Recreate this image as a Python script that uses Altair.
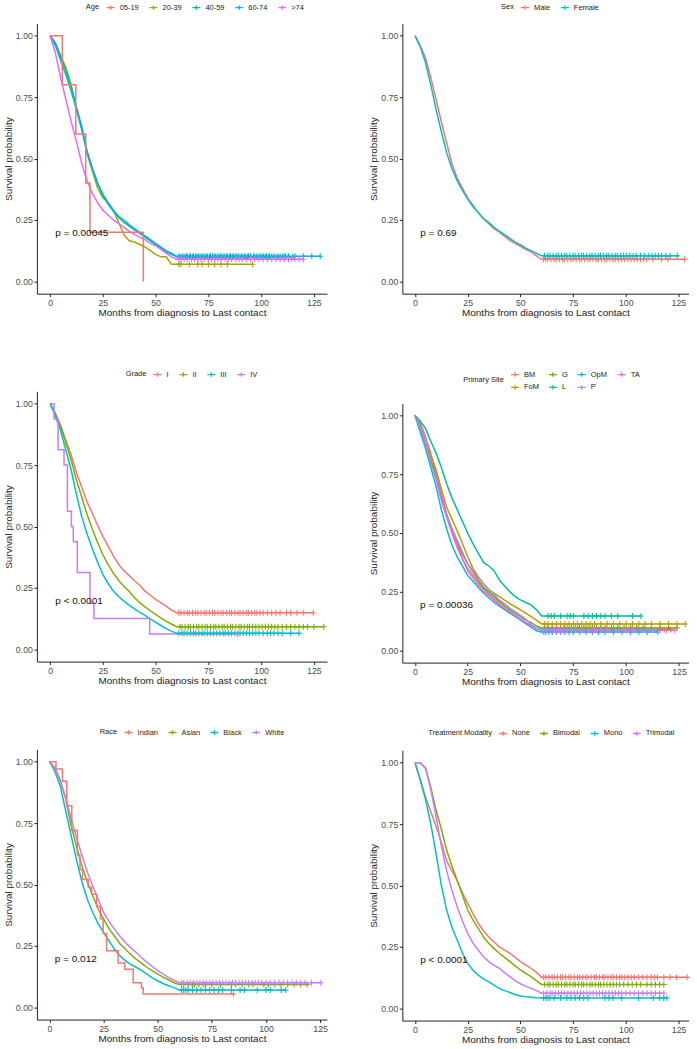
import altair as alt
import pandas as pd

FONT = "Liberation Sans"

# common reading grid (months) for the large curves
GRID = [0, 2.5, 5, 7.5, 10, 12.5, 15, 17.5, 20, 22.5, 25, 27.5, 30, 32.5, 35,
        37.5, 40, 42.5, 45, 47.5, 50, 52.5, 55, 57.5, 60]

# ---------------- Age ----------------
AGE_LABELS = ["05-19", "20-39", "40-59", "60-74", ">74"]
AGE_COLORS = ["#F8766D", "#A3A500", "#00BF7D", "#00B0F6", "#E76BF3"]
AGE_0519_T = [0, 5.8, 12.2, 16.9, 18.9, 44.2]
AGE_0519_S = [1, 0.8, 0.6, 0.4, 0.2, 0.0]
AGE_2039_S = [1, 0.97, 0.92, 0.87, 0.80, 0.70, 0.62, 0.52, 0.45, 0.38, 0.34, 0.32, 0.29,
              0.24, 0.19, 0.165, 0.16, 0.15, 0.14, 0.125, 0.11, 0.10, 0.10, 0.07, 0.07]
AGE_4059_S = [1, 0.97, 0.91, 0.86, 0.79, 0.71, 0.63, 0.53, 0.46, 0.40, 0.35, 0.315, 0.285,
              0.26, 0.24, 0.225, 0.21, 0.195, 0.18, 0.165, 0.15, 0.135, 0.12, 0.11, 0.10]
AGE_6074_S = [1, 0.96, 0.90, 0.84, 0.775, 0.70, 0.62, 0.53, 0.46, 0.40, 0.355, 0.32, 0.29,
              0.265, 0.25, 0.23, 0.215, 0.20, 0.185, 0.17, 0.155, 0.14, 0.125, 0.115, 0.102]
AGE_74_S = [1, 0.93, 0.83, 0.74, 0.65, 0.57, 0.48, 0.41, 0.36, 0.32, 0.29, 0.27, 0.25,
            0.235, 0.22, 0.205, 0.19, 0.18, 0.17, 0.155, 0.145, 0.13, 0.115, 0.10, 0.09]
AGE_END = [44.2, 96, 115, 128, 120]
AGE_0519_C = []
AGE_2039_C = [61, 62, 66, 70, 72, 75, 78, 81, 84, 96]
AGE_4059_C = [61.5, 63, 64.5, 66, 67.5, 69, 70, 71.5, 73, 74, 75.5, 77, 78, 79.5, 81, 82,
              83.5, 85, 86.5, 88, 89, 90.5, 92, 93.5, 95, 97, 99, 100.5, 102, 103.5, 105,
              107, 109, 111, 113, 115]
AGE_6074_C = [61, 62.5, 64, 65, 66.5, 68, 69, 70.5, 72, 73, 74.5, 76, 77, 78.5, 80, 81,
              82.5, 84, 85.5, 87, 88, 89.5, 91, 92.5, 94, 95, 96.5, 98, 99.5, 101, 102.5,
              104, 106, 108, 110, 111.5, 113, 116, 120, 124, 128]
AGE_74_C = [61, 62, 63.5, 65, 67, 68.5, 70, 71.5, 73, 75, 76.5, 78, 79.5, 81, 83, 84.5,
            86, 88, 89.5, 91, 93, 95, 97, 99, 101, 103, 105, 107, 109, 111, 113, 114.5,
            116, 118, 120]

# ---------------- Sex ----------------
SEX_LABELS = ["Male", "Female"]
SEX_COLORS = ["#F8766D", "#00BFC4"]
MALE_S = [1, 0.96, 0.91, 0.83, 0.74, 0.65, 0.565, 0.48, 0.42, 0.38, 0.34, 0.31, 0.28,
          0.255, 0.235, 0.215, 0.20, 0.183, 0.167, 0.155, 0.143, 0.13, 0.12, 0.105, 0.09]
FEMALE_S = [1, 0.955, 0.89, 0.80, 0.70, 0.61, 0.525, 0.46, 0.41, 0.37, 0.335, 0.305, 0.28,
            0.255, 0.24, 0.22, 0.205, 0.19, 0.175, 0.16, 0.15, 0.135, 0.125, 0.115, 0.104]
SEX_END = [128, 124.5]
MALE_C = [61, 62, 63, 64.5, 66, 67, 68.5, 70, 71, 72.5, 74, 75, 76.5, 78, 79, 80.5, 82,
          83, 84.5, 86, 87, 88.5, 90, 91, 92.5, 94, 95, 96.5, 98, 99.5, 101, 102.5, 104,
          105.5, 107, 108.5, 110, 113, 117, 120, 128]
FEMALE_C = [61.5, 63, 64, 65.5, 67, 68, 69.5, 71, 72, 73.5, 75, 76, 77.5, 79, 80, 81.5,
            83, 84, 85.5, 87, 88, 89.5, 91, 92, 93.5, 95, 96, 97.5, 99, 100.5, 102, 103.5,
            105, 107, 109, 111, 112.5, 114, 115.5, 117, 119, 121, 124.5]

# ---------------- Grade ----------------
GRADE_LABELS = ["I", "II", "III", "IV"]
GRADE_COLORS = ["#F8766D", "#7CAE00", "#00BFC4", "#C77CFF"]
G1_S = [1, 0.96, 0.91, 0.85, 0.79, 0.72, 0.66, 0.60, 0.555, 0.505, 0.46, 0.42, 0.38,
        0.345, 0.32, 0.30, 0.28, 0.26, 0.237, 0.22, 0.203, 0.19, 0.176, 0.16, 0.149]
G2_S = [1, 0.96, 0.91, 0.84, 0.77, 0.69, 0.62, 0.55, 0.49, 0.435, 0.386, 0.345, 0.31,
        0.28, 0.257, 0.235, 0.21, 0.19, 0.173, 0.157, 0.142, 0.128, 0.115, 0.103, 0.092]
G3_S = [1, 0.95, 0.89, 0.81, 0.73, 0.63, 0.54, 0.47, 0.41, 0.355, 0.305, 0.268, 0.237,
        0.215, 0.196, 0.18, 0.165, 0.15, 0.138, 0.124, 0.111, 0.097, 0.084, 0.074, 0.065]
G4_T = [0, 1.9, 3.8, 6.6, 8.2, 10.1, 11.0, 12.9, 18.9, 20.8, 47.2]
G4_S = [1, 0.9375, 0.8125, 0.75, 0.5625, 0.5, 0.4375, 0.3125, 0.1875, 0.125, 0.0625]
GRADE_END = [124.7, 129.7, 117.9, 88.7]
G1_C = [61, 62, 63.5, 65, 66, 67.5, 69, 70, 71.5, 73, 74, 75.5, 77, 78, 79.5, 81, 82,
        83.5, 85, 86, 87.5, 89, 90, 91.5, 93, 94, 95.5, 97, 98, 99.5, 101, 103, 105, 107,
        109, 112, 114, 117, 120, 124.7]
G2_C = [61.5, 62.5, 64, 65.5, 66.5, 68, 69.5, 70.5, 72, 73.5, 74.5, 76, 77.5, 78.5, 80,
        81.5, 82.5, 84, 85.5, 86.5, 88, 89.5, 90.5, 92, 93.5, 94.5, 96, 97.5, 99, 100.5,
        102, 103.5, 105, 106.5, 108, 110, 112, 114, 116, 118, 120, 122, 125, 129.7]
G3_C = [61, 62.5, 63.5, 65, 66.5, 68, 69, 70.5, 72, 73, 74.5, 76, 77.5, 79, 80.5, 82, 83,
        84.5, 86, 87.5, 89, 90, 91.5, 93, 94.5, 96, 97.5, 99, 101, 103, 104.5, 106, 108,
        110, 114, 117.9]
G4_C = [88.7]

# ---------------- Primary Site (legend order: 2 rows of 4) ----------------
SITE_LABELS = ["BM", "G", "OpM", "TA", "FoM", "L", "P"]
SITE_COLORS = ["#F8766D", "#53B400", "#00B6EB", "#FB61D7", "#C49A00", "#00C094", "#A58AFF"]
BM_S = [1, 0.95, 0.88, 0.81, 0.74, 0.65, 0.57, 0.50, 0.44, 0.39, 0.35, 0.32, 0.29,
        0.265, 0.24, 0.22, 0.20, 0.18, 0.165, 0.15, 0.135, 0.12, 0.105, 0.095, 0.09]
G_S = [1, 0.95, 0.88, 0.81, 0.75, 0.66, 0.58, 0.52, 0.46, 0.41, 0.37, 0.335, 0.30,
       0.27, 0.25, 0.23, 0.21, 0.19, 0.175, 0.16, 0.145, 0.13, 0.12, 0.105, 0.097]
OPM_S = [1, 0.93, 0.86, 0.78, 0.70, 0.60, 0.52, 0.45, 0.40, 0.36, 0.32, 0.295, 0.27,
         0.245, 0.225, 0.205, 0.19, 0.175, 0.16, 0.145, 0.13, 0.115, 0.10, 0.085, 0.08]
TA_S = [1, 0.97, 0.91, 0.84, 0.76, 0.67, 0.58, 0.51, 0.45, 0.39, 0.34, 0.31, 0.28,
        0.255, 0.235, 0.215, 0.195, 0.18, 0.165, 0.15, 0.135, 0.12, 0.105, 0.095, 0.087]
FOM_S = [1, 0.96, 0.89, 0.83, 0.77, 0.69, 0.61, 0.56, 0.51, 0.455, 0.40, 0.35, 0.315,
         0.285, 0.26, 0.245, 0.23, 0.215, 0.20, 0.187, 0.174, 0.16, 0.145, 0.13, 0.114]
L_S = [1, 0.975, 0.945, 0.89, 0.84, 0.78, 0.71, 0.65, 0.60, 0.55, 0.50, 0.455, 0.415,
       0.375, 0.36, 0.34, 0.30, 0.275, 0.25, 0.23, 0.216, 0.205, 0.195, 0.175, 0.148]
P_S = [1, 0.95, 0.88, 0.80, 0.73, 0.64, 0.57, 0.52, 0.47, 0.42, 0.37, 0.34, 0.31,
       0.285, 0.26, 0.24, 0.215, 0.20, 0.18, 0.165, 0.15, 0.135, 0.11, 0.095, 0.088]
SITE_END = [121, 124, 115, 123, 128, 107, 113]
BM_C = [61, 62.5, 64, 66, 67.5, 69, 71, 72.5, 74, 76, 77.5, 79, 81, 82.5, 84, 86, 87.5,
        89, 91, 93, 95, 97, 99, 101, 104, 107, 110, 114, 118, 121]
G_C = [61.5, 63, 65, 67, 69, 70.5, 72, 74, 76, 78, 80, 82, 84, 86, 88, 90, 93, 96, 99,
       102, 105, 108, 112, 116, 120, 124]
OPM_C = [61, 62, 63.5, 65, 67, 69, 71, 73, 75, 78, 81, 84, 87, 90, 94, 98, 102, 106,
         110, 115]
TA_C = [61, 62, 64, 65.5, 67, 69, 70.5, 72, 74, 76, 78, 80, 82, 84, 86, 88, 90, 92, 95,
        98, 101, 104, 107, 110, 113, 116, 119, 123]
FOM_C = [61.5, 63, 65, 67, 69, 71, 73, 75, 77, 79, 81, 83, 85, 88, 91, 94, 97, 100, 103,
         106, 109, 112, 116, 120, 124, 128]
L_C = [63, 64.5, 66, 69, 72, 73.5, 75, 80, 82, 84, 86, 88, 90, 93, 96, 103, 107]
P_C = [61, 62.5, 64, 66, 68, 70, 72, 74, 76, 79, 82, 85, 88, 91, 95, 99, 103, 107, 110,
       113]

# ---------------- Race ----------------
RACE_LABELS = ["Indian", "Asian", "Black", "White"]
RACE_COLORS = ["#F8766D", "#7CAE00", "#00BFC4", "#C77CFF"]
INDIAN_T = [0, 3, 6, 8, 10.3, 12.9, 14.1, 15.3, 17.9, 19.5, 21.8, 23.5, 24.8, 26.4, 31.7,
            34.8, 38.7, 42.5, 43.3]
INDIAN_S = [1, 0.97, 0.92, 0.82, 0.72, 0.62, 0.56, 0.52, 0.49, 0.46, 0.41, 0.36, 0.30,
            0.23, 0.18, 0.155, 0.10, 0.08, 0.054]
ASIAN_S = [1, 0.975, 0.925, 0.85, 0.74, 0.655, 0.576, 0.51, 0.454, 0.40, 0.36, 0.32, 0.29,
           0.26, 0.237, 0.215, 0.196, 0.18, 0.163, 0.148, 0.135, 0.123, 0.112, 0.10, 0.093]
BLACK_S = [1, 0.96, 0.90, 0.80, 0.70, 0.60, 0.51, 0.44, 0.386, 0.34, 0.305, 0.27, 0.237,
           0.21, 0.19, 0.175, 0.163, 0.15, 0.135, 0.12, 0.108, 0.097, 0.088, 0.08, 0.07]
WHITE_S = [1, 0.97, 0.92, 0.85, 0.77, 0.69, 0.62, 0.55, 0.495, 0.44, 0.386, 0.35, 0.318,
           0.29, 0.264, 0.243, 0.224, 0.203, 0.183, 0.166, 0.149, 0.135, 0.122, 0.11, 0.10]
RACE_END = [85, 119, 109, 125.3]
INDIAN_C = [85]
ASIAN_C = [61, 62, 64, 66, 67, 69, 71, 72, 75, 79, 84, 86, 89, 92, 94, 99, 101, 104, 107,
           110, 113, 116, 119]
BLACK_C = [61, 62, 63, 64, 66, 68, 70, 72, 74, 76, 78, 80, 84, 88, 90, 96, 100, 102, 107,
           109]
WHITE_C = [61, 62, 63.5, 65, 66.5, 68, 69.5, 71, 72.5, 74, 75.5, 77, 78.5, 80, 81.5, 83,
           84.5, 86, 87.5, 89, 90.5, 92, 93.5, 95, 96.5, 98, 100, 102, 104, 106, 108, 110,
           112, 114, 116, 118, 121, 125.3]

# ---------------- Treatment Modality ----------------
TREAT_LABELS = ["None", "Bimodal", "Mono", "Trimodal"]
TREAT_COLORS = ["#F8766D", "#7CAE00", "#00BFC4", "#C77CFF"]
NONE_S = [1, 0.93, 0.86, 0.80, 0.74, 0.675, 0.60, 0.56, 0.52, 0.47, 0.427, 0.385, 0.346,
          0.315, 0.29, 0.27, 0.25, 0.237, 0.224, 0.207, 0.19, 0.177, 0.163, 0.147, 0.126]
BI_S = [1, 1.0, 0.976, 0.90, 0.806, 0.73, 0.644, 0.58, 0.52, 0.46, 0.40, 0.36, 0.325,
        0.29, 0.264, 0.243, 0.224, 0.207, 0.19, 0.173, 0.156, 0.142, 0.129, 0.113, 0.097]
MONO_S = [1, 0.93, 0.85, 0.75, 0.63, 0.50, 0.40, 0.33, 0.278, 0.225, 0.183, 0.155, 0.135,
          0.12, 0.108, 0.094, 0.081, 0.072, 0.064, 0.056, 0.05, 0.047, 0.045, 0.043, 0.042]
TRI_S = [1, 1.0, 0.98, 0.89, 0.78, 0.66, 0.56, 0.48, 0.413, 0.355, 0.305, 0.265, 0.237,
         0.21, 0.19, 0.175, 0.163, 0.145, 0.129, 0.113, 0.10, 0.09, 0.081, 0.073, 0.061]
TREAT_END = [129, 118, 119.5, 118]
NONE_C = [61, 62, 63.5, 65, 66, 67.5, 69, 70, 71.5, 73, 74, 75.5, 77, 78, 79.5, 81, 82,
          83.5, 85, 86, 87.5, 89, 90, 91.5, 93, 94, 95.5, 97, 98, 99.5, 101, 102.5, 104,
          106, 108, 110, 112, 113.5, 115, 118, 121, 124, 129]
BI_C = [61.5, 63, 64, 65.5, 67, 68, 69.5, 71, 72, 73.5, 75, 76, 77.5, 79, 80, 81.5, 83,
        84, 85.5, 87, 88, 89.5, 91, 92.5, 94, 95.5, 97, 99, 101, 103, 105, 107, 110, 112,
        114, 116, 118]
MONO_C = [61, 62, 63, 64, 66, 69, 72, 74, 76, 78, 80, 82, 90, 92, 94, 98, 106, 113, 116,
          118, 119.5]
TRI_C = [61, 62.5, 64, 65, 66.5, 68, 69.5, 71, 72.5, 74, 75.5, 77, 78.5, 80, 81.5, 83,
         84.5, 86, 87.5, 89, 90.5, 92, 93.5, 95, 96.5, 98, 100, 102, 104, 106, 108, 110,
         112, 114, 116, 118]

P_VALUES = ["p = 0.00045", "p = 0.69", "p < 0.0001", "p = 0.00036", "p = 0.012", "p < 0.0001"]


def surv_at(times, surv, c):
    v = surv[0]
    for t, s in zip(times, surv):
        if t <= c:
            v = s
    return v


def panel(title, labels, colors, curves, censors, pval, xdom, w, h, lx, ly,
          cols=None, lpad=0):
    line_rows, cens_rows = [], []
    for lab, (T, S, end), C in zip(labels, curves, censors):
        kind = "grid" if T is GRID else "step"
        pts = list(zip(T, S))
        if end > T[-1]:
            pts.append((end, S[-1]))
        for t, s in pts:
            line_rows.append({"g": lab, "t": t, "s": s, "k": kind})
        for c in C:
            cens_rows.append({"g": lab, "t": c, "s": surv_at(T, S, c)})
    ldf = pd.DataFrame(line_rows)
    cdf = pd.DataFrame(cens_rows)

    legend_kw = dict(
        title=title, orient="none", legendX=lx, legendY=ly, direction="horizontal",
        titleOrient="left", titleAnchor="middle", titleBaseline="middle",
        titleFont=FONT, titleFontSize=7.5, titleFontWeight="normal", titleColor="#222",
        labelFont=FONT, labelFontSize=7.5, labelColor="#222",
        symbolType="M-1,0H1M0,-0.55V0.55", symbolSize=64, symbolStrokeWidth=1.3,
        labelOffset=4, columnPadding=7, rowPadding=3, titlePadding=6, padding=lpad,
    )
    if cols:
        legend_kw["columns"] = cols
    legend = alt.Legend(**legend_kw)

    xs = alt.Scale(domain=xdom, nice=False, zero=False)
    ys = alt.Scale(domain=[-0.05, 1.05], nice=False, zero=False)
    xaxis = alt.Axis(values=[0, 25, 50, 75, 100, 125], title="Months from diagnosis to Last contact",
                     titlePadding=1)
    yaxis = alt.Axis(values=[0, 0.25, 0.5, 0.75, 1.0], format=".2f",
                     title="Survival probability", titlePadding=2)
    cscale = alt.Scale(domain=labels, range=colors)

    base = alt.Chart(ldf)
    smooth = base.transform_filter(alt.datum.k == "grid").mark_line(
        interpolate="linear", strokeWidth=1.5).encode(
        x=alt.X("t:Q", scale=xs, axis=xaxis),
        y=alt.Y("s:Q", scale=ys, axis=yaxis),
        color=alt.Color("g:N", scale=cscale, legend=legend),
    )
    steps = base.transform_filter(alt.datum.k == "step").mark_line(
        interpolate="step-after", strokeWidth=1.5).encode(
        x=alt.X("t:Q", scale=xs),
        y=alt.Y("s:Q", scale=ys),
        color=alt.Color("g:N", scale=cscale, legend=legend),
    )
    marks = alt.Chart(cdf).mark_point(shape="M-1,0H1M0,-1V1", filled=False, size=36,
                                      strokeWidth=1.1, opacity=1).encode(
        x=alt.X("t:Q", scale=xs),
        y=alt.Y("s:Q", scale=ys),
        color=alt.Color("g:N", scale=cscale, legend=None),
    )
    txt = alt.Chart(pd.DataFrame({"label": [pval]})).mark_text(
        align="left", baseline="middle", font=FONT, fontSize=10, color="#111"
    ).encode(x=alt.datum(2.5), y=alt.datum(0.195), text="label:N")
    return alt.layer(smooth, steps, marks, txt).properties(width=w, height=h)


A = panel("Age", AGE_LABELS, AGE_COLORS,
          [(AGE_0519_T, AGE_0519_S, AGE_END[0]), (GRID, AGE_2039_S, AGE_END[1]),
           (GRID, AGE_4059_S, AGE_END[2]), (GRID, AGE_6074_S, AGE_END[3]),
           (GRID, AGE_74_S, AGE_END[4])],
          [AGE_0519_C, AGE_2039_C, AGE_4059_C, AGE_6074_C, AGE_74_C],
          P_VALUES[0], [-6.25, 131.25], 291, 271, 49, -21)
B = panel("Sex", SEX_LABELS, SEX_COLORS,
          [(GRID, MALE_S, SEX_END[0]), (GRID, FEMALE_S, SEX_END[1])],
          [MALE_C, FEMALE_C], P_VALUES[1], [-6.0, 129.8], 287, 271, 99, -21)
C = panel("Grade", GRADE_LABELS, GRADE_COLORS,
          [(GRID, G1_S, GRADE_END[0]), (GRID, G2_S, GRADE_END[1]),
           (GRID, G3_S, GRADE_END[2]), (G4_T, G4_S, GRADE_END[3])],
          [G1_C, G2_C, G3_C, G4_C], P_VALUES[2], [-6.25, 131.25], 291, 271, 89 - 10, -22 - 10,
          lpad=10)
D = panel("Primary Site", SITE_LABELS, SITE_COLORS,
          [(GRID, BM_S, SITE_END[0]), (GRID, G_S, SITE_END[1]), (GRID, OPM_S, SITE_END[2]),
           (GRID, TA_S, SITE_END[3]), (GRID, FOM_S, SITE_END[4]), (GRID, L_S, SITE_END[5]),
           (GRID, P_S, SITE_END[6])],
          [BM_C, G_C, OPM_C, TA_C, FOM_C, L_C, P_C], P_VALUES[3], [-5.9, 129.5], 287, 260,
          61 - 10, -34 - 10, cols=4, lpad=10)
E = panel("Race", RACE_LABELS, RACE_COLORS,
          [(INDIAN_T, INDIAN_S, RACE_END[0]), (GRID, ASIAN_S, RACE_END[1]),
           (GRID, BLACK_S, RACE_END[2]), (GRID, WHITE_S, RACE_END[3])],
          [INDIAN_C, ASIAN_C, BLACK_C, WHITE_C], P_VALUES[4], [-5.8, 128.2], 291, 271, 63, -22)
F = panel("Treatment Modality", TREAT_LABELS, TREAT_COLORS,
          [(GRID, NONE_S, TREAT_END[0]), (GRID, BI_S, TREAT_END[1]),
           (GRID, MONO_S, TREAT_END[2]), (GRID, TRI_S, TREAT_END[3])],
          [NONE_C, BI_C, MONO_C, TRI_C], P_VALUES[5], [-6.0, 129.7], 287, 271, 26, -22)


def indep(ch):
    return ch.resolve_scale(color="independent", x="independent", y="independent") \
             .resolve_legend(color="independent")


left = indep(alt.vconcat(A, C, E, spacing=41))
right = indep(alt.vconcat(B, D, F, spacing=41))
chart = indep(alt.hconcat(left, right, spacing=39.5)).properties(
    padding={"left": 3, "top": 1, "right": 4, "bottom": 4}
).configure_view(stroke=None).configure_axis(
    grid=False, domainColor="#222", tickColor="#222", labelColor="#4D4D4D",
    labelFont=FONT, titleFont=FONT, labelFontSize=8.8, titleFontSize=10,
    titleFontWeight="normal", titleColor="#222", tickSize=3, labelPadding=1.5,
    domainWidth=1, tickWidth=1
)

chart.save("out.html", embed_options={"renderer": "svg", "actions": False})
